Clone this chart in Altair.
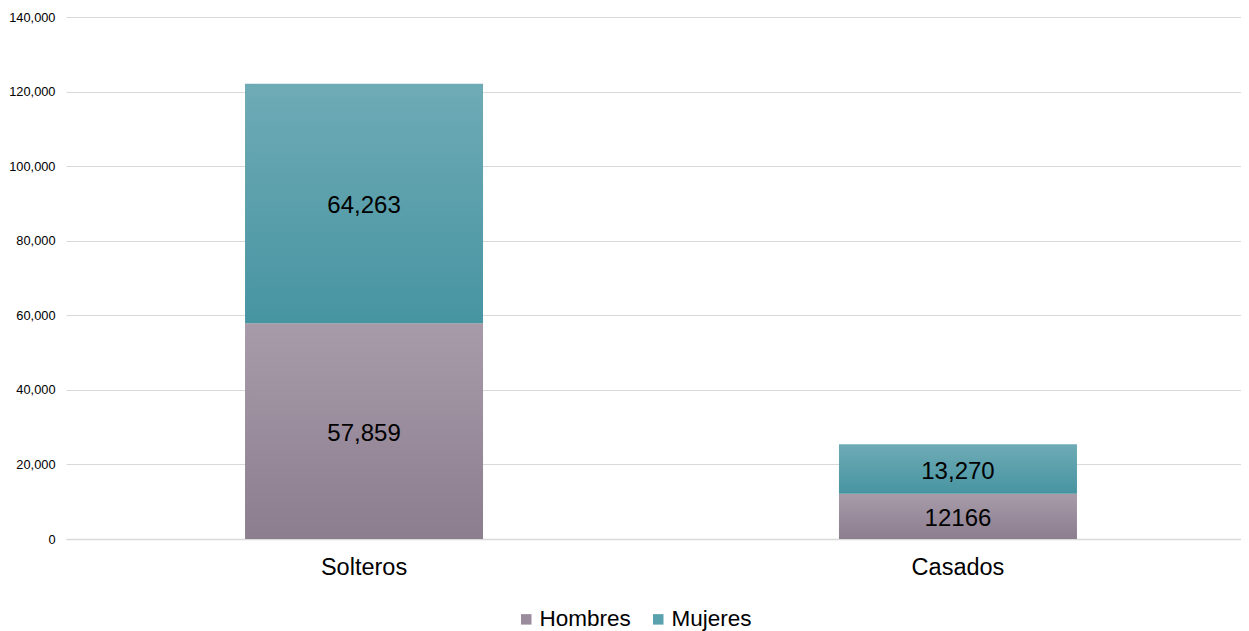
import altair as alt
import pandas as pd

categories = ["Solteros", "Solteros", "Casados", "Casados"]
series = ["Hombres", "Mujeres", "Hombres", "Mujeres"]
values = [57859, 64263, 12166, 13270]
labels = ["57,859", "64,263", "12166", "13,270"]
order = [0, 1, 0, 1]
y_ticks = [0, 20000, 40000, 60000, 80000, 100000, 120000, 140000]

df = pd.DataFrame({"cat": categories, "serie": series, "val": values,
                   "lab": labels, "ord": order})

FONT = "Liberation Sans"
cat_order = ["Solteros", "Casados"]
SHIFT = 7.5

xenc = alt.X("cat:N", sort=cat_order, title=None,
             scale=alt.Scale(paddingInner=0.5993, paddingOuter=0.2888),
             axis=alt.Axis(labelAngle=0, labelFontSize=23.5, labelFont=FONT,
                           labelColor="#000000", ticks=False, labelPadding=16,
                           labelOffset=SHIFT,
                           domain=True, domainColor="#d9d9d9", domainWidth=1.5))
yscale = alt.Scale(domain=[0, 140000], nice=False)
yaxis = alt.Axis(values=y_ticks, labelOverlap=False,
                 labelExpr="format(datum.value, ',')",
                 labelFontSize=12.8, labelFont=FONT, labelColor="#000000",
                 ticks=False, domain=False, gridColor="#d9d9d9", gridWidth=1.2,
                 labelPadding=11, title=None)

def yenc(field):
    return alt.Y(field, scale=yscale, axis=yaxis, title=None)

base = alt.Chart(df).transform_stack(
    stack="val", as_=["y0", "y1"], groupby=["cat"], sort=[alt.SortField("ord")]
).transform_calculate(mid="(datum.y0 + datum.y1) / 2")

def grad(top, bottom):
    return alt.Gradient(gradient="linear", x1=0, x2=0, y1=0, y2=1,
                        stops=[alt.GradientStop(color=top, offset=0),
                               alt.GradientStop(color=bottom, offset=1)])

legend_layer = base.mark_bar(opacity=0).encode(
    x=xenc,
    y=yenc("y0:Q"),
    y2="y1:Q",
    color=alt.Color("serie:N",
                    scale=alt.Scale(domain=["Hombres", "Mujeres"], range=["#9a8c9d", "#5aa2ae"]),
                    legend=alt.Legend(title=None, orient="none", direction="horizontal",
                                      legendX=449, legendY=591, symbolType="square",
                                      symbolSize=110, symbolOpacity=1, symbolStrokeWidth=0,
                                      labelFontSize=22.5, labelFont=FONT, labelColor="#000000",
                                      columnPadding=16, labelOffset=2)),
)

hombres = base.transform_filter(alt.datum.serie == "Hombres").mark_bar(
    color=grad("#a79ba9", "#8c7d8f"), xOffset=SHIFT).encode(x=xenc, y=yenc("y0:Q"), y2="y1:Q")
mujeres = base.transform_filter(alt.datum.serie == "Mujeres").mark_bar(
    color=grad("#6eabb6", "#4794a1"), xOffset=SHIFT).encode(x=xenc, y=yenc("y0:Q"), y2="y1:Q")

text = base.mark_text(fontSize=24, font=FONT, color="#000000", baseline="middle",
                      dx=SHIFT, dy=3).encode(x=xenc, y=yenc("mid:Q"), text="lab:N")

chart = alt.layer(legend_layer, hombres, mujeres, text).properties(
    width=1175, height=522,
    padding={"left": 0, "top": 3, "right": 0, "bottom": 0},
).configure_view(stroke=None)

chart.save("out.html", embed_options={"renderer": "svg", "actions": False})
